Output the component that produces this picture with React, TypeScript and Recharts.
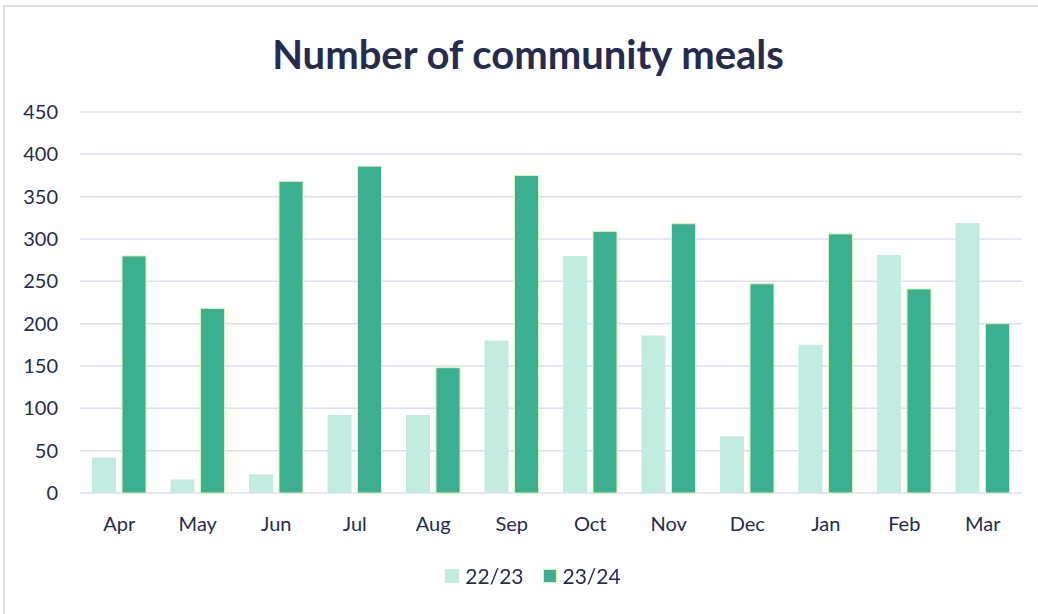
import { BarChart, Bar, XAxis, YAxis, CartesianGrid, Legend } from 'recharts';

const months = ['Apr', 'May', 'Jun', 'Jul', 'Aug', 'Sep', 'Oct', 'Nov', 'Dec', 'Jan', 'Feb', 'Mar'];
const meals2223 = [42, 16, 22, 92, 92, 180, 280, 186, 67, 175, 281, 319];
const meals2324 = [280, 218, 368, 386, 148, 375, 309, 318, 247, 306, 241, 200];
const yTicks = [0, 50, 100, 150, 200, 250, 300, 350, 400, 450];

const COLORS = {
  light: '#c3ece1', // 22/23
  dark: '#3baf8f', // 23/24
  darkEdge: '#d6f5b4',
  text: '#262c4d',
  grid: '#dedef0',
};

const FONT = 'Lato, "Open Sans", sans-serif';

const data = months.map((month, i) => ({
  month,
  s2223: meals2223[i],
  s2324: meals2324[i],
}));

function LegendRow({ payload }: any) {
  return (
    <div style={{ display: 'flex', justifyContent: 'center', alignItems: 'center', gap: 19 }}>
      {(payload || []).map((item: any) => {
        const isDark = item.dataKey === 's2324';
        return (
          <div key={item.value} style={{ display: 'flex', alignItems: 'center', gap: 6 }}>
            <span
              style={{
                display: 'inline-block',
                width: 14,
                height: 14,
                boxSizing: 'border-box',
                background: item.color,
                border: isDark ? `1px solid ${COLORS.darkEdge}` : 'none',
              }}
            />
            <span style={{ color: COLORS.text, fontSize: 21, fontFamily: FONT }}>{item.value}</span>
          </div>
        );
      })}
    </div>
  );
}

export default function App() {
  return (
    <div style={{ position: 'fixed', left: 0, top: 0, width: 1038, height: 614, background: '#fff', fontFamily: FONT }}>
      {/* frame */}
      <div
        style={{
          position: 'absolute',
          left: 3,
          top: 5,
          width: 1100,
          height: 700,
          borderLeft: `2px solid ${COLORS.grid}`,
          borderTop: `2px solid ${COLORS.grid}`,
        }}
      />
      <div
        style={{
          position: 'absolute',
          left: 0,
          width: 1056,
          top: 30,
          textAlign: 'center',
          fontSize: 40,
          fontWeight: 700,
          color: COLORS.text,
        }}
      >
        Number of community meals
      </div>
      <div style={{ position: 'absolute', left: 0, top: 0 }}>
        <BarChart
          width={1038}
          height={614}
          data={data}
          margin={{ top: 112, right: 16, left: 0, bottom: 56 }}
          barSize={24}
          barGap={6}
        >
          <CartesianGrid vertical={false} stroke={COLORS.grid} strokeWidth={1.5} />
          <XAxis
            dataKey="month"
            axisLine={false}
            tickLine={false}
            tickSize={0}
            tickMargin={24}
            height={40}
            tick={{ fill: COLORS.text, fontSize: 20, fontFamily: FONT }}
          />
          <YAxis
            width={80}
            domain={[0, 450]}
            ticks={yTicks}
            axisLine={false}
            tickLine={false}
            tickSize={0}
            tickMargin={22}
            tick={{ fill: COLORS.text, fontSize: 20, fontFamily: FONT }}
          />
          <Legend
            verticalAlign="bottom"
            content={<LegendRow />}
            wrapperStyle={{ top: 563, left: 0, width: 1066 }}
          />
          <Bar dataKey="s2223" name="22/23" fill={COLORS.light} isAnimationActive={false} />
          <Bar
            dataKey="s2324"
            name="23/24"
            fill={COLORS.dark}
            stroke={COLORS.darkEdge}
            strokeWidth={1}
            isAnimationActive={false}
          />
        </BarChart>
      </div>
    </div>
  );
}
